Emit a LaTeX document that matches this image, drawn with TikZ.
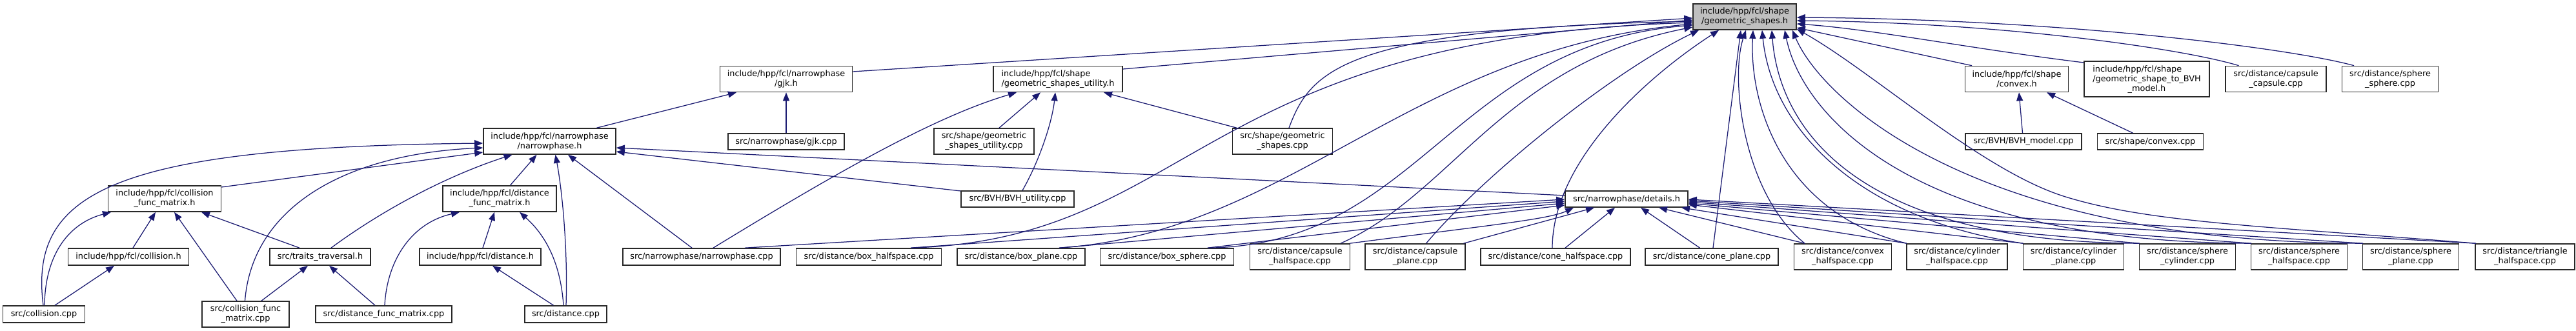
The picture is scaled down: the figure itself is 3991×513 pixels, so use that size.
\documentclass[tikz,border=0pt]{standalone}
\usepackage{fontspec}
\setmainfont{DejaVu Sans}
\usetikzlibrary{arrows.meta}
\definecolor{edgeblue}{RGB}{25,25,112}
\definecolor{boxline}{RGB}{40,40,40}
\definecolor{mainfill}{RGB}{191,191,191}
\begin{document}
\begin{tikzpicture}[x=1bp,y=-1bp,
  box/.style={draw=boxline, line width=1.6bp, fill=white, inner sep=0pt,
    font=\fontsize{12.9}{15}\selectfont, align=center, minimum height=26bp},
  two/.style={minimum height=40bp},
  three/.style={minimum height=55bp},
  edge/.style={draw=edgeblue, line width=1.25bp, -{Triangle[length=13bp,width=10bp]}}]
\useasboundingbox (0,0) rectangle (3991,513);
% row 0
\node[box,two,fill=mainfill,minimum width=160bp] (gsh) at (2703,26) {include/hpp/fcl/shape\\/geometric\_shapes.h};
% row 1
\node[box,two,minimum width=205bp] (gjkh) at (1218,122.5) {include/hpp/fcl/narrowphase\\/gjk.h};
\node[box,two,minimum width=200bp,align=left] (gsuh) at (1639,122.5) {include/hpp/fcl/shape\\/geometric\_shapes\_utility.h};
\node[box,two,minimum width=160bp] (convexh) at (3124.5,122.5) {include/hpp/fcl/shape\\/convex.h};
\node[box,three,minimum width=194bp] (gstbh) at (3326,122.5) {\begin{tabular}{@{}l@{}}include/hpp/fcl/shape\\/geometric\_shape\_to\_BVH\end{tabular}\\\_model.h};
\node[box,two,minimum width=156bp] (cc) at (3526,122.5) {src/distance/capsule\\\_capsule.cpp};
\node[box,two,minimum width=149bp] (ss) at (3703,122.5) {src/distance/sphere\\\_sphere.cpp};
% row 2
\node[box,two,minimum width=205bp] (nph) at (851.5,219) {include/hpp/fcl/narrowphase\\/narrowphase.h};
\node[box,minimum width=180bp,minimum height=25bp] (gjkcpp) at (1218,219.5) {src/narrowphase/gjk.cpp};
\node[box,two,minimum width=155bp] (gsucpp) at (1524.5,219) {src/shape/geometric\\\_shapes\_utility.cpp};
\node[box,two,minimum width=155bp] (gscpp) at (1987,219) {src/shape/geometric\\\_shapes.cpp};
\node[box,minimum width=180bp,minimum height=25bp] (bvhmodel) at (3135,219.5) {src/BVH/BVH\_model.cpp};
\node[box,minimum width=164bp,minimum height=25bp] (convexcpp) at (3331.5,219.5) {src/shape/convex.cpp};
% row 3
\node[box,two,minimum width=175bp] (cfmh) at (255,308) {include/hpp/fcl/collision\\\_func\_matrix.h};
\node[box,two,minimum width=176bp] (dfmh) at (774,308) {include/hpp/fcl/distance\\\_func\_matrix.h};
\node[box,minimum width=175bp,minimum height=25bp] (bvhu) at (1576.5,308.5) {src/BVH/BVH\_utility.cpp};
\node[box,minimum width=190bp,minimum height=25bp] (deth) at (2520,308.5) {src/narrowphase/details.h};
% row 4
\node[box,minimum width=187bp] (collh) at (199,398) {include/hpp/fcl/collision.h};
\node[box,minimum width=156bp] (trav) at (496,398) {src/traits\_traversal.h};
\node[box,minimum width=188bp] (disth) at (744,398) {include/hpp/fcl/distance.h};
\node[box,minimum width=244bp] (npcpp) at (1087,398) {src/narrowphase/narrowphase.cpp};
\node[box,minimum width=225bp] (bhs) at (1346,398) {src/distance/box\_halfspace.cpp};
\node[box,minimum width=198bp] (bpl) at (1582,398) {src/distance/box\_plane.cpp};
\node[box,minimum width=207bp] (bsp) at (1808,398) {src/distance/box\_sphere.cpp};
\node[box,two,minimum width=155bp] (chs) at (2014,398) {src/distance/capsule\\\_halfspace.cpp};
\node[box,two,minimum width=155bp] (cpl) at (2192.5,398) {src/distance/capsule\\\_plane.cpp};
\node[box,minimum width=232bp] (cohs) at (2410,398) {src/distance/cone\_halfspace.cpp};
\node[box,minimum width=206bp] (copl) at (2652,398) {src/distance/cone\_plane.cpp};
\node[box,two,minimum width=151bp] (cvhs) at (2855,398) {src/distance/convex\\\_halfspace.cpp};
\node[box,two,minimum width=156bp] (cyhs) at (3032,398) {src/distance/cylinder\\\_halfspace.cpp};
\node[box,two,minimum width=156bp] (cypl) at (3212.5,398) {src/distance/cylinder\\\_plane.cpp};
\node[box,two,minimum width=149bp] (spcy) at (3389,398) {src/distance/sphere\\\_cylinder.cpp};
\node[box,two,minimum width=149bp] (sphs) at (3562,398) {src/distance/sphere\\\_halfspace.cpp};
\node[box,two,minimum width=149bp] (sppl) at (3735,398) {src/distance/sphere\\\_plane.cpp};
\node[box,two,minimum width=154bp] (trhs) at (3912,398) {src/distance/triangle\\\_halfspace.cpp};
% row 5
\node[box,minimum width=127bp] (collcpp) at (68,487) {src/collision.cpp};
\node[box,two,minimum width=135bp] (cfmcpp) at (380.5,487) {src/collision\_func\\\_matrix.cpp};
\node[box,minimum width=211bp] (dfmcpp) at (594.5,487) {src/distance\_func\_matrix.cpp};
\node[box,minimum width=127bp] (distcpp) at (876.5,487) {src/distance.cpp};
\coordinate (trbend) at (3200,305);
% edges
\draw[edge] ([yshift=11.5bp]gjkh.east) -- ([yshift=-2bp]gsh.west);
\draw[edge] ([yshift=15.5bp]gsuh.east) -- ([yshift=-5bp]gsh.west);
\draw[edge] ([xshift=73bp]nph.north) -- ([xshift=-77bp]gjkh.south);
\draw[edge] (gjkcpp.north) -- (gjkh.south);
\draw[edge] ([xshift=-1bp]collcpp.north) .. controls (45,300) and (170,228) .. ([yshift=-3bp]nph.west);
\draw[edge] ([yshift=18bp]cfmh.east) -- ([yshift=-17bp]nph.west);
\draw[edge] ([xshift=-1bp]cfmcpp.north) .. controls (390,330) and (520,240) .. ([yshift=-10bp]nph.west);
\draw[edge] ([xshift=17bp]trav.north) .. controls (600,320) and (700,270) .. ([xshift=-58bp]nph.south);
\draw[edge] ([xshift=16.5bp]dfmh.north) -- ([xshift=-20bp]nph.south);
\draw[edge] ([xshift=0.5bp]distcpp.north) .. controls (880,380) and (870,290) .. ([xshift=9bp]nph.south);
\draw[edge] ([xshift=-15bp]npcpp.north) -- ([xshift=28.5bp]nph.south);
\draw[edge] ([yshift=5.5bp]deth.west) -- ([yshift=-10bp]nph.east);
\draw[edge] ([yshift=12.5bp]bvhu.west) -- ([yshift=-16bp]nph.east);
\draw[edge] ([xshift=1bp]collcpp.north) .. controls (70,390) and (110,345) .. ([xshift=-83bp]cfmh.south);
\draw[edge] ([xshift=7bp]collh.north) -- ([xshift=-14bp]cfmh.south);
\draw[edge] ([xshift=-13.5bp]cfmcpp.north) -- ([xshift=15bp]cfmh.south);
\draw[edge] ([xshift=-32bp]trav.north) -- ([xshift=57bp]cfmh.south);
\draw[edge] ([xshift=17bp]collcpp.north) -- ([xshift=-22bp]collh.south);
\draw[edge] ([xshift=24.5bp]cfmcpp.north) -- ([xshift=-19bp]trav.south);
\draw[edge] ([xshift=-13.5bp]dfmcpp.north) -- ([xshift=14bp]trav.south);
\draw[edge] ([xshift=1.5bp]dfmcpp.north) .. controls (600,400) and (640,345) .. ([xshift=-62bp]dfmh.south);
\draw[edge] ([xshift=4bp]disth.north) -- ([xshift=-8bp]dfmh.south);
\draw[edge] ([xshift=-3.5bp]distcpp.north) .. controls (868,400) and (840,360) .. ([xshift=31bp]dfmh.south);
\draw[edge] ([xshift=-19bp]distcpp.north) -- ([xshift=19bp]disth.south);
\draw[edge] ([xshift=18bp]npcpp.north) .. controls (1300,265) and (1450,180) .. ([xshift=-64bp]gsuh.south);
\draw[edge] ([xshift=23.5bp]gsucpp.north) -- ([xshift=-27bp]gsuh.south);
\draw[edge] ([xshift=7.5bp]bvhu.north) .. controls (1610,250) and (1630,190) .. ([xshift=-4bp]gsuh.south);
\draw[edge] ([xshift=-71bp]gscpp.north) -- ([xshift=71bp]gsuh.south);
\draw[edge] ([xshift=10bp]gscpp.north) .. controls (2030,110) and (2080,45) .. ([yshift=-7bp]gsh.west);
\draw[edge] ([xshift=-69.5bp]convexh.north) -- ([yshift=-17bp]gsh.east);
\draw[edge] ([yshift=25.5bp]gstbh.west) .. controls (3050,75) and (2900,45) .. ([yshift=-11bp]gsh.east);
\draw[edge] ([xshift=-57.5bp]cc.north) .. controls (3380,75) and (3100,35) .. ([yshift=-6bp]gsh.east);
\draw[edge] ([xshift=-56bp]ss.north) .. controls (3550,75) and (3200,30) .. ([yshift=-1bp]gsh.east);
\draw[edge] ([xshift=-1.5bp]bvhmodel.north) -- ([xshift=3.5bp]convexh.south);
\draw[edge] ([xshift=-27bp]convexcpp.north) -- ([xshift=46.5bp]convexh.south);
% to details.h
\draw[edge] ([xshift=67bp]npcpp.north) -- ([yshift=-0.5bp]deth.west);
\draw[edge] ([xshift=65bp]bhs.north) -- ([yshift=-3.5bp]deth.west);
\draw[edge] ([xshift=59bp]bpl.north) -- ([yshift=-6.5bp]deth.west);
\draw[edge] ([xshift=63bp]bsp.north) -- ([yshift=-9.5bp]deth.west);
\draw[edge] ([xshift=77bp]chs.north) .. controls (2300,350) and (2400,340) .. ([xshift=-82bp]deth.south);
\draw[edge] ([xshift=75bp]cpl.north) -- ([xshift=-50bp]deth.south);
\draw[edge] ([xshift=15bp]cohs.north) -- ([xshift=-18bp]deth.south);
\draw[edge] ([xshift=-18.5bp]copl.north) -- ([xshift=22bp]deth.south);
\draw[edge] ([xshift=-59bp]cvhs.north) -- ([xshift=50bp]deth.south);
\draw[edge] ([xshift=-78bp]cyhs.north) -- ([xshift=85bp]deth.south);
\draw[edge] ([xshift=-78bp]cypl.north) -- ([yshift=-8.5bp]deth.east);
\draw[edge] ([xshift=-74bp]spcy.north) -- ([yshift=-6.5bp]deth.east);
\draw[edge] ([xshift=-74bp]sphs.north) -- ([yshift=-4.5bp]deth.east);
\draw[edge] ([xshift=-74bp]sppl.north) -- ([yshift=-2.5bp]deth.east);
\draw[edge] ([xshift=-76bp]trhs.north) -- ([yshift=-0.5bp]deth.east);
% to geometric_shapes.h
\draw[edge] ([xshift=66bp]bhs.north) .. controls (1850,370) and (1850,60) .. ([yshift=-9bp]gsh.west);
\draw[edge] ([xshift=59bp]bpl.north) .. controls (2000,360) and (2180,80) .. ([yshift=-11bp]gsh.west);
\draw[edge] ([xshift=63bp]bsp.north) .. controls (2200,380) and (2250,70) .. ([yshift=-13bp]gsh.west);
\draw[edge] ([xshift=63bp]chs.north) .. controls (2250,300) and (2330,100) .. ([yshift=-16bp]gsh.west);
\draw[edge] ([xshift=17bp]cpl.north) .. controls (2300,270) and (2500,110) .. ([xshift=-71bp]gsh.south);
\draw[edge] ([xshift=-5bp]cohs.north) .. controls (2405,250) and (2550,120) .. ([xshift=-40bp]gsh.south);
\draw[edge] ([xshift=2bp]copl.north) -- ([xshift=-6bp]gsh.south);
\draw[edge] ([xshift=-59bp]cvhs.north) .. controls (2700,300) and (2680,120) .. ([xshift=2bp]gsh.south);
\draw[edge] ([xshift=-78bp]cyhs.north) .. controls (2760,330) and (2710,160) .. ([xshift=13bp]gsh.south);
\draw[edge] ([xshift=-78bp]cypl.north) .. controls (2880,340) and (2745,200) .. ([xshift=27bp]gsh.south);
\draw[edge] ([xshift=-74bp]spcy.north) .. controls (2850,375) and (2755,180) .. ([xshift=42bp]gsh.south);
\draw[edge] ([xshift=-74bp]sphs.north) .. controls (2950,375) and (2790,170) .. ([xshift=62bp]gsh.south);
\draw[edge] ([xshift=-74bp]sppl.north) .. controls (3050,375) and (2820,150) .. ([xshift=74bp]gsh.south);
\draw[edge] ([xshift=-76bp]trhs.north) .. controls (3500,350) and (3330,345) .. (trbend) .. controls (3070,265) and (2900,110) .. ([yshift=-19bp]gsh.east);
\end{tikzpicture}
\end{document}
